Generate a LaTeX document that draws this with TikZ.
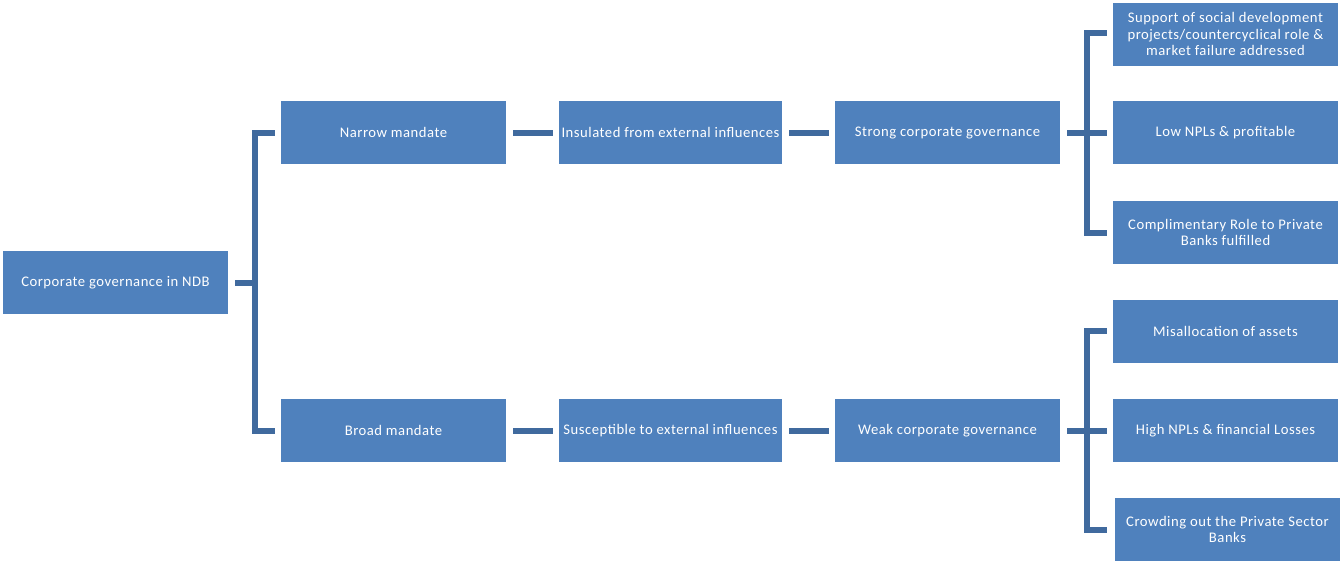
\documentclass[tikz,border=0pt]{standalone}
\usepackage{fontspec}
\setmainfont[LetterSpace=3.5]{Carlito}
\usetikzlibrary{calc}
\definecolor{boxblue}{RGB}{79,129,189}
\definecolor{lineblue}{RGB}{64,106,158}

\begin{document}
\begin{tikzpicture}[x=0.75pt, y=-0.75pt,
box/.style={rectangle, fill=boxblue, text=white, minimum width=168.75pt, minimum height=47.25pt, inner sep=1pt, align=center, font=\fontsize{11}{12.4}\selectfont},
link/.style={draw=lineblue, line width=4.5pt}]
\useasboundingbox (0,0) rectangle (1340,562);
% left part
\node[box] (root) at (115.5,282.5) {Corporate governance in NDB};
\node[box] (narrow) at (393.5,132.5) {Narrow mandate};
\node[box] (broad) at (393.5,430.5) {Broad mandate};
\node[box, minimum width=167.25pt] (insul) at (670.5,132.5) {Insulated from external influences};
\node[box, minimum width=167.25pt] (suscep) at (670.5,430.5) {Susceptible to external influences};
\node[box] (strong) at (947.5,132.5) {Strong corporate governance};
\node[box] (weak) at (947.5,430.5) {Weak corporate governance};
% right column
\node[box] (sup) at (1225.5,34) {Support of social development\\projects/countercyclical role \&\\market failure addressed};
\node[box] (lownpl) at (1225.5,132.5) {Low NPLs \& profitable};
\node[box] (compl) at (1225.5,232.5) {Complimentary Role to Private\\Banks fulfilled};
\node[box] (misalloc) at (1225.5,331) {Misallocation of assets};
\node[box] (highnpl) at (1225.5,430.5) {High NPLs \& financial Losses};
\node[box] (crowd) at (1227.5,529.5) {Crowding out the Private Sector\\Banks};
% brackets
\draw[link] ($(root.east)+(7,0)$) -- ($(root.east)+(27,0)$);
\draw[link] ($(narrow.west)+(-6,0)$) -| ($(root.east)+(27,0)$) |- ($(broad.west)+(-6,0)$);
\draw[link] ($(narrow.east)+(7,0)$) -- ($(insul.west)+(-6,0)$);
\draw[link] ($(broad.east)+(7,0)$) -- ($(suscep.west)+(-6,0)$);
\draw[link] ($(insul.east)+(7,0)$) -- ($(strong.west)+(-6,0)$);
\draw[link] ($(suscep.east)+(7,0)$) -- ($(weak.west)+(-6,0)$);
\draw[link] ($(strong.east)+(7,0)$) -- ($(lownpl.west)+(-6,0)$);
\draw[link] ($(sup.west)+(-6,-1)$) -| ($(strong.east)+(27,0)$) |- ($(compl.west)+(-6,0)$);
\draw[link] ($(weak.east)+(7,0)$) -- ($(highnpl.west)+(-6,0)$);
\draw[link] ($(misalloc.west)+(-6,0)$) -| ($(weak.east)+(27,0)$) |- ($(crowd.west)+(-8,0)$);
\end{tikzpicture}
\end{document}
